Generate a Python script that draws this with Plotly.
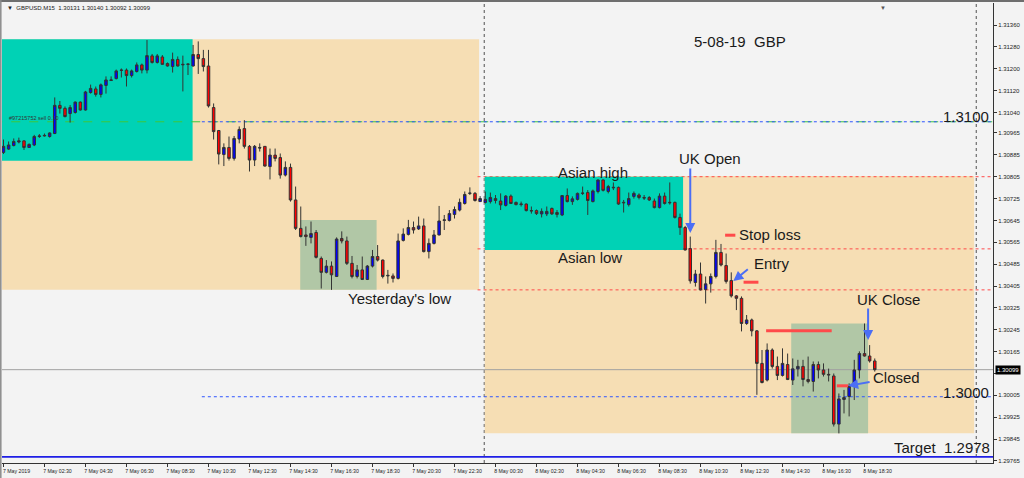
import pandas as pd
import plotly.graph_objects as go

# ---------------- data (GBPUSD M15, 7-8 May 2019) ----------------
start = pd.Timestamp("2019-05-07 00:30")
times = pd.date_range(start, periods=171, freq="15min")

open_ = [1.30894, 1.30906, 1.30919, 1.30932, 1.30936, 1.30912, 1.30921, 1.30952, 1.30954, 1.30952,
         1.30963, 1.31066, 1.31055, 1.31036, 1.31040, 1.31078, 1.31049, 1.31113, 1.31126, 1.31106,
         1.31139, 1.31157, 1.31164, 1.31194, 1.31195, 1.31175, 1.31190, 1.31214, 1.31195, 1.31247,
         1.31223, 1.31243, 1.31219, 1.31208, 1.31234, 1.31214, 1.31216, 1.31210, 1.31252, 1.31237,
         1.31210, 1.31058, 1.30974, 1.30886, 1.30912, 1.30872, 1.30943, 1.30981, 1.30916, 1.30866,
         1.30912, 1.30916, 1.30842, 1.30884, 1.30875, 1.30811, 1.30839, 1.30720, 1.30616, 1.30592,
         1.30583, 1.30601, 1.30506, 1.30455, 1.30478, 1.30440, 1.30579, 1.30570, 1.30488, 1.30440,
         1.30464, 1.30429, 1.30478, 1.30513, 1.30500, 1.30442, 1.30442, 1.30433, 1.30572, 1.30594,
         1.30619, 1.30614, 1.30625, 1.30531, 1.30561, 1.30592, 1.30645, 1.30645, 1.30667, 1.30683,
         1.30707, 1.30744, 1.30744, 1.30714, 1.30711, 1.30714, 1.30725, 1.30716, 1.30700, 1.30734,
         1.30711, 1.30703, 1.30705, 1.30681, 1.30681, 1.30669, 1.30669, 1.30689, 1.30674, 1.30665,
         1.30736, 1.30714, 1.30722, 1.30744, 1.30747, 1.30714, 1.30751, 1.30793, 1.30751, 1.30764,
         1.30766, 1.30709, 1.30703, 1.30733, 1.30738, 1.30729, 1.30729, 1.30716, 1.30692, 1.30734,
         1.30709, 1.30711, 1.30656, 1.30619, 1.30542, 1.30418, 1.30449, 1.30392, 1.30413, 1.30440,
         1.30528, 1.30480, 1.30425, 1.30369, 1.30360, 1.30268, 1.30281, 1.30241, 1.30122, 1.30061,
         1.30171, 1.30111, 1.30078, 1.30118, 1.30061, 1.30102, 1.30111, 1.30063, 1.30056, 1.30118,
         1.30098, 1.30082, 1.30076, 1.29900, 1.29990, 1.30001, 1.30038, 1.30098, 1.30158, 1.30149,
         1.30131]
high = [1.30941, 1.30934, 1.30945, 1.30948, 1.30939, 1.30927, 1.30958, 1.30961, 1.30963, 1.30967,
        1.31095, 1.31082, 1.31062, 1.31067, 1.31080, 1.31080, 1.31119, 1.31142, 1.31135, 1.31146,
        1.31172, 1.31172, 1.31197, 1.31201, 1.31201, 1.31197, 1.31223, 1.31219, 1.31305, 1.31254,
        1.31254, 1.31250, 1.31223, 1.31259, 1.31245, 1.31248, 1.31219, 1.31287, 1.31300, 1.31269,
        1.31269, 1.31073, 1.30976, 1.30927, 1.30952, 1.30954, 1.30989, 1.31012, 1.30921, 1.30921,
        1.30927, 1.30917, 1.30908, 1.30908, 1.30890, 1.30861, 1.30853, 1.30769, 1.30696, 1.30623,
        1.30641, 1.30610, 1.30513, 1.30500, 1.30495, 1.30583, 1.30605, 1.30586, 1.30515, 1.30482,
        1.30513, 1.30482, 1.30537, 1.30555, 1.30502, 1.30464, 1.30451, 1.30597, 1.30616, 1.30647,
        1.30641, 1.30659, 1.30652, 1.30579, 1.30610, 1.30698, 1.30665, 1.30683, 1.30696, 1.30725,
        1.30751, 1.30766, 1.30749, 1.30734, 1.30751, 1.30747, 1.30738, 1.30744, 1.30738, 1.30740,
        1.30714, 1.30714, 1.30707, 1.30696, 1.30685, 1.30689, 1.30696, 1.30692, 1.30683, 1.30738,
        1.30762, 1.30733, 1.30747, 1.30769, 1.30756, 1.30758, 1.30795, 1.30795, 1.30775, 1.30784,
        1.30769, 1.30720, 1.30747, 1.30751, 1.30744, 1.30738, 1.30734, 1.30725, 1.30744, 1.30747,
        1.30784, 1.30714, 1.30670, 1.30625, 1.30586, 1.30464, 1.30491, 1.30440, 1.30451, 1.30574,
        1.30559, 1.30524, 1.30455, 1.30372, 1.30367, 1.30299, 1.30286, 1.30244, 1.30171, 1.30195,
        1.30177, 1.30147, 1.30177, 1.30158, 1.30140, 1.30135, 1.30135, 1.30147, 1.30129, 1.30129,
        1.30122, 1.30103, 1.30085, 1.30012, 1.30025, 1.30049, 1.30135, 1.30166, 1.30268, 1.30189,
        1.30140]
low = [1.30888, 1.30903, 1.30916, 1.30927, 1.30903, 1.30910, 1.30917, 1.30947, 1.30952, 1.30948,
       1.30961, 1.31036, 1.31022, 1.31003, 1.31036, 1.31047, 1.31047, 1.31109, 1.31098, 1.31095,
       1.31109, 1.31155, 1.31161, 1.31168, 1.31135, 1.31168, 1.31186, 1.31183, 1.31183, 1.31219,
       1.31219, 1.31214, 1.31208, 1.31186, 1.31208, 1.31117, 1.31177, 1.31208, 1.31181, 1.31190,
       1.31058, 1.30941, 1.30850, 1.30844, 1.30864, 1.30864, 1.30927, 1.30908, 1.30824, 1.30844,
       1.30897, 1.30842, 1.30795, 1.30861, 1.30798, 1.30806, 1.30714, 1.30610, 1.30583, 1.30552,
       1.30561, 1.30506, 1.30396, 1.30451, 1.30391, 1.30438, 1.30561, 1.30482, 1.30433, 1.30433,
       1.30427, 1.30427, 1.30473, 1.30495, 1.30433, 1.30414, 1.30418, 1.30429, 1.30568, 1.30590,
       1.30597, 1.30610, 1.30528, 1.30506, 1.30557, 1.30590, 1.30610, 1.30641, 1.30652, 1.30678,
       1.30703, 1.30738, 1.30714, 1.30713, 1.30707, 1.30707, 1.30707, 1.30683, 1.30696, 1.30705,
       1.30700, 1.30696, 1.30678, 1.30670, 1.30665, 1.30656, 1.30661, 1.30665, 1.30656, 1.30661,
       1.30711, 1.30702, 1.30718, 1.30738, 1.30665, 1.30711, 1.30744, 1.30751, 1.30744, 1.30756,
       1.30702, 1.30674, 1.30696, 1.30725, 1.30722, 1.30720, 1.30716, 1.30689, 1.30689, 1.30703,
       1.30703, 1.30652, 1.30592, 1.30535, 1.30414, 1.30403, 1.30389, 1.30341, 1.30381, 1.30433,
       1.30477, 1.30414, 1.30363, 1.30317, 1.30239, 1.30263, 1.30221, 1.30007, 1.30049, 1.30056,
       1.30103, 1.30061, 1.30074, 1.30061, 1.30043, 1.30074, 1.30038, 1.30049, 1.30019, 1.30067,
       1.30074, 1.30056, 1.29891, 1.29866, 1.29939, 1.29928, 1.29988, 1.30067, 1.30147, 1.30125,
       1.30092]
close = [1.30916, 1.30921, 1.30934, 1.30936, 1.30912, 1.30923, 1.30952, 1.30954, 1.30956, 1.30965,
         1.31066, 1.31055, 1.31025, 1.31058, 1.31078, 1.31049, 1.31115, 1.31128, 1.31106, 1.31141,
         1.31159, 1.31159, 1.31192, 1.31195, 1.31175, 1.31192, 1.31214, 1.31195, 1.31248, 1.31223,
         1.31247, 1.31216, 1.31210, 1.31234, 1.31210, 1.31216, 1.31217, 1.31252, 1.31237, 1.31208,
         1.31064, 1.30970, 1.30888, 1.30912, 1.30872, 1.30945, 1.30978, 1.30916, 1.30866, 1.30916,
         1.30910, 1.30844, 1.30884, 1.30872, 1.30811, 1.30839, 1.30720, 1.30616, 1.30586, 1.30586,
         1.30597, 1.30510, 1.30455, 1.30478, 1.30446, 1.30577, 1.30570, 1.30488, 1.30440, 1.30464,
         1.30429, 1.30478, 1.30513, 1.30500, 1.30440, 1.30444, 1.30433, 1.30570, 1.30595, 1.30619,
         1.30610, 1.30625, 1.30531, 1.30561, 1.30592, 1.30643, 1.30647, 1.30670, 1.30685, 1.30711,
         1.30740, 1.30745, 1.30718, 1.30725, 1.30722, 1.30729, 1.30718, 1.30702, 1.30734, 1.30707,
         1.30703, 1.30705, 1.30681, 1.30680, 1.30670, 1.30678, 1.30678, 1.30669, 1.30667, 1.30736,
         1.30714, 1.30724, 1.30744, 1.30745, 1.30718, 1.30753, 1.30793, 1.30755, 1.30769, 1.30766,
         1.30705, 1.30711, 1.30725, 1.30744, 1.30729, 1.30727, 1.30720, 1.30692, 1.30734, 1.30707,
         1.30711, 1.30656, 1.30619, 1.30537, 1.30424, 1.30449, 1.30391, 1.30413, 1.30440, 1.30528,
         1.30482, 1.30422, 1.30369, 1.30360, 1.30268, 1.30281, 1.30241, 1.30122, 1.30052, 1.30171,
         1.30111, 1.30078, 1.30122, 1.30063, 1.30102, 1.30111, 1.30063, 1.30056, 1.30118, 1.30098,
         1.30082, 1.30080, 1.29900, 1.29992, 1.29997, 1.30038, 1.30098, 1.30158, 1.30149, 1.30131,
         1.30099]

tick_times = pd.date_range(start, periods=22, freq="2h")
tick_labels = ["7 May 2019", "7 May 02:30", "7 May 04:30", "7 May 06:30", "7 May 08:30",
               "7 May 10:30", "7 May 12:30", "7 May 14:30", "7 May 16:30", "7 May 18:30",
               "7 May 20:30", "7 May 22:30", "8 May 00:30", "8 May 02:30", "8 May 04:30",
               "8 May 06:30", "8 May 08:30", "8 May 10:30", "8 May 12:30", "8 May 14:30",
               "8 May 16:30", "8 May 18:30"]
price_ticks = [1.31360, 1.31280, 1.31200, 1.31120, 1.31040, 1.30965, 1.30885, 1.30805, 1.30725,
               1.30645, 1.30565, 1.30485, 1.30405, 1.30325, 1.30245, 1.30165, 1.30085, 1.30005,
               1.29925, 1.29845, 1.29765]
last_price = 1.30099
level_1_3000 = 1.3000
target_level = 1.2978
asian_high = 1.30805
asian_low = 1.30541
yesterday_low = 1.30391
order_level = 1.31006

# ---------------- helpers ----------------
def tx(k):
    """time at (fractional) bar index k"""
    return str(start + pd.Timedelta(minutes=15 * k))

FONT = "Liberation Sans, Arial, sans-serif"
TEAL = "#00D2B5"
BEIGE = "#F6DEB4"
SAGE = "#B1C7A6"
ARROW = "#4B6EF5"
RED = "#FF4A4A"

fig = go.Figure(go.Candlestick(
    x=times, open=open_, high=high, low=low, close=close,
    increasing=dict(fillcolor="#0000FF", line=dict(color="#333333", width=1)),
    decreasing=dict(fillcolor="#FF0000", line=dict(color="#333333", width=1)),
    whiskerwidth=0, showlegend=False, hoverinfo="skip"))

shapes = []

def rect(k0, k1, p0, p1, color):
    shapes.append(dict(type="rect", xref="x", yref="y", x0=tx(k0), x1=tx(k1), y0=p0, y1=p1,
                       fillcolor=color, line=dict(width=0), layer="below"))

def hline(k0, k1, p, color, dash="solid", width=1, layer="below"):
    shapes.append(dict(type="line", xref="x", yref="y", x0=tx(k0), x1=tx(k1), y0=p, y1=p,
                       line=dict(color=color, dash=dash, width=width), layer=layer))

# day 1 boxes
rect(-2, 92.8, 1.31308, yesterday_low, BEIGE)
rect(-2, 36.9, 1.31308, 1.30863, TEAL)
rect(57.9, 72.8, 1.30647, yesterday_low, SAGE)
# day 2 boxes
rect(93.9, 189.4, 1.30808, 1.29866, BEIGE)
hline(92.5, 196, asian_high, RED, "dot")
hline(92.5, 196, asian_low, RED, "dot")
hline(92.5, 196, yesterday_low, RED, "dot")
rect(93.9, 132.6, asian_high, 1.30537, TEAL)
rect(153.7, 168.7, 1.30268, 1.29866, SAGE)

# horizontal levels
hline(-2, 196, order_level, "#3CC83C", "dash")
hline(38.7, 196, order_level, "#2F55FF", "dot")
hline(38.7, 196, level_1_3000, "#2F55FF", "dot")
hline(-2, 196, last_price, "#A0A0A0")
hline(-2, 196, target_level, "#1E1EE6", width=1.6)

# day separators
for k in (93.8, 189.8):
    shapes.append(dict(type="line", xref="x", yref="paper", x0=tx(k), x1=tx(k), y0=0, y1=1,
                       line=dict(color="#505050", dash="dot", width=1), layer="below"))

# red trade markers
hline(140.8, 142.8, 1.30591, RED, width=3, layer="above")
hline(144.4, 147.3, 1.30419, RED, width=3, layer="above")
hline(148.8, 161.6, 1.30241, RED, width=3, layer="above")
hline(162.6, 164.8, 1.30040, RED, width=3, layer="above")

# window frame
shapes.append(dict(type="line", xref="paper", yref="paper", x0=-0.01, x1=1.05, y0=1.0045, y1=1.0045,
                   line=dict(color="#6E6E6E", width=2)))
shapes.append(dict(type="line", xref="paper", yref="paper", x0=-0.0012, x1=-0.0012, y0=-0.05, y1=1.01,
                   line=dict(color="#8A8A8A", width=1.5)))

annotations = []

def label(k, p, text, anchor="left", size=15, color="#1A1A1A"):
    annotations.append(dict(x=tx(k), y=p, xref="x", yref="y", text=text, showarrow=False,
                            xanchor=anchor, yanchor="middle",
                            font=dict(family=FONT, size=size, color=color)))

label(134.3, 1.31298, "5-08-19  GBP")
label(192.7, 1.31027, "1.3100", anchor="right")
label(192.7, 1.30014, "1.3000", anchor="right")
label(192.9, 1.29813, "Target  1.2978", anchor="right")
label(107.8, 1.30822, "Asian high")
label(107.8, 1.30511, "Asian low")
label(131.4, 1.30870, "UK Open")
label(143.1, 1.30592, "Stop loss")
label(146.0, 1.30486, "Entry")
label(166.1, 1.30354, "UK Close")
label(169.3, 1.30070, "Closed")
label(66.8, 1.30361, "Yesterday's low")
label(0.6, 1.31018, "#97215752 sell 0.10", size=5.5, color="#333333")

def arrow(k, p, ax, ay):
    annotations.append(dict(x=tx(k), y=p, xref="x", yref="y", ax=ax, ay=ay, text="",
                            showarrow=True, arrowhead=2, arrowsize=1, arrowwidth=2,
                            arrowcolor=ARROW, standoff=0))

arrow(134.0, 1.30599, 0, -66)
arrow(142.4, 1.30423, 16, -13)
arrow(168.7, 1.30208, 0, -33)
arrow(164.8, 1.30040, 23, -4)

# header and current price tag
annotations.append(dict(x=0.003, y=0.99, xref="paper", yref="paper", xanchor="left", yanchor="middle",
                        text="▼  GBPUSD.M15  1.30131 1.30140 1.30092 1.30099", showarrow=False,
                        font=dict(family=FONT, size=6, color="#222222")))
annotations.append(dict(x=0.8889, y=1.0, xref="paper", yref="paper", xanchor="center", yanchor="top",
                        text="▼", showarrow=False, font=dict(family=FONT, size=6, color="#555555")))
annotations.append(dict(x=1, y=last_price, xref="paper", yref="y", xanchor="left", yanchor="middle",
                        xshift=2, text="1.30099", showarrow=False, bgcolor="#000000", borderpad=1,
                        font=dict(family=FONT, size=6, color="#FFFFFF")))

# the 1.30085 label sits under the current-price tag, so only its tick mark is drawn
price_tick_text = ["" if abs(v - 1.30085) < 1e-9 else f"{v:.5f}" for v in price_ticks]

fig.update_layout(
    width=1024, height=478,
    margin=dict(l=2, r=31, t=3, b=15, pad=0),
    paper_bgcolor="#F3F3F3", plot_bgcolor="#F3F3F3",
    showlegend=False, boxgap=0.3,
    shapes=shapes, annotations=annotations,
    xaxis=dict(type="date", range=[tx(-0.29), tx(193.07)], rangeslider=dict(visible=False),
               showgrid=False, zeroline=False, showline=True, linecolor="#333333", linewidth=1,
               ticks="outside", ticklen=3, tickcolor="#333333",
               tickvals=tick_times, ticktext=tick_labels, ticklabelshift=13, ticklabelstandoff=0,
               tickfont=dict(family=FONT, size=5.2, color="#222222")),
    yaxis=dict(side="right", range=[1.297576, 1.314405], showgrid=False, zeroline=False,
               showline=True, linecolor="#333333", linewidth=1, ticks="outside", ticklen=3,
               tickcolor="#333333", tickvals=price_ticks, ticktext=price_tick_text,
               tickfont=dict(family=FONT, size=6, color="#222222")),
)

fig.write_html(
    "out.html",
    config={"displayModeBar": False},
    post_script="document.body.style.margin='0';document.body.style.overflow='hidden';"
                "document.documentElement.style.overflow='hidden';",
)
